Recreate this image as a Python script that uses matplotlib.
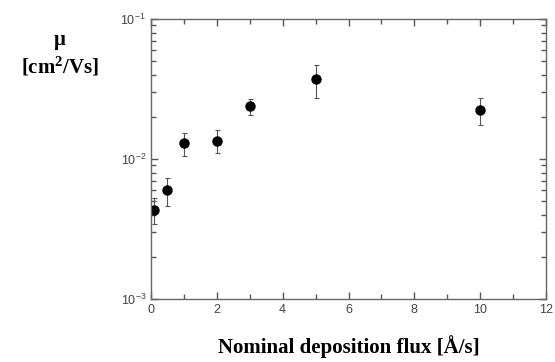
import numpy as np
import matplotlib.pyplot as plt
from matplotlib.ticker import FixedLocator, NullFormatter

plt.rcParams['mathtext.fontset'] = 'custom'
plt.rcParams['mathtext.rm'] = 'Liberation Sans'
plt.rcParams['mathtext.it'] = 'Liberation Sans'
plt.rcParams['mathtext.bf'] = 'Liberation Serif:bold'

# data
flux = [0.1, 0.5, 1, 2, 3, 5, 10]
mobility = [0.00432, 0.00601, 0.0130, 0.0134, 0.0239, 0.0373, 0.0224]
err_hi = [0.00526, 0.00731, 0.01535, 0.0161, 0.0270, 0.0469, 0.0273]
err_lo = [0.00344, 0.00462, 0.0105, 0.0110, 0.0206, 0.0273, 0.0175]

mob = np.array(mobility)
yerr = [mob - np.array(err_lo), np.array(err_hi) - mob]

fig = plt.figure(figsize=(5.55, 3.62), dpi=100)
ax = fig.add_axes([151/555, 1 - 299/362, 395/555, 280/362])

ax.errorbar(flux, mobility, yerr=yerr, fmt='o', color='black', ms=6.5,
            ecolor='#555555', elinewidth=0.8, capsize=1.8, capthick=0.8)

ax.set_yscale('log')
ax.set_xlim(0, 12)
ax.set_ylim(1e-3, 1e-1)
ax.set_xticks([0, 2, 4, 6, 8, 10, 12])
ax.set_xticks([1, 3, 5, 7, 9, 11], minor=True)
ax.set_yticks([1e-3, 1e-2, 1e-1])
ax.set_yticklabels(['10$^{-3}$', '10$^{-2}$', '10$^{-1}$'])
minor_y = [m * 10.0**e for e in (-3, -2) for m in range(2, 10)]
ax.yaxis.set_minor_locator(FixedLocator(minor_y))
ax.yaxis.set_minor_formatter(NullFormatter())

for s in ax.spines.values():
    s.set_color('#666666')
    s.set_linewidth(1.0)
ax.tick_params(which='both', direction='in', top=True, right=True,
               colors='#555555', labelcolor='#444444', labelsize=9)
ax.tick_params(which='major', length=5, width=1.0)
ax.tick_params(which='minor', length=3.5, width=1.0)
for lab in ax.get_xticklabels() + ax.get_yticklabels():
    lab.set_family('Liberation Sans')

ax.set_xlabel('Nominal deposition flux [Å/s]', family='Liberation Serif',
              fontweight='bold', fontsize=15, labelpad=14)
fig.text(60/555, 1 - 40/362, 'μ', family='Liberation Serif', fontweight='bold',
         fontsize=15, ha='center', va='center')
fig.text(60/555, 1 - 66/362, r'[cm$^\mathbf{2}$/Vs]', family='Liberation Serif',
         fontweight='bold', fontsize=15, ha='center', va='center')

fig.savefig('out.png', dpi=100)
